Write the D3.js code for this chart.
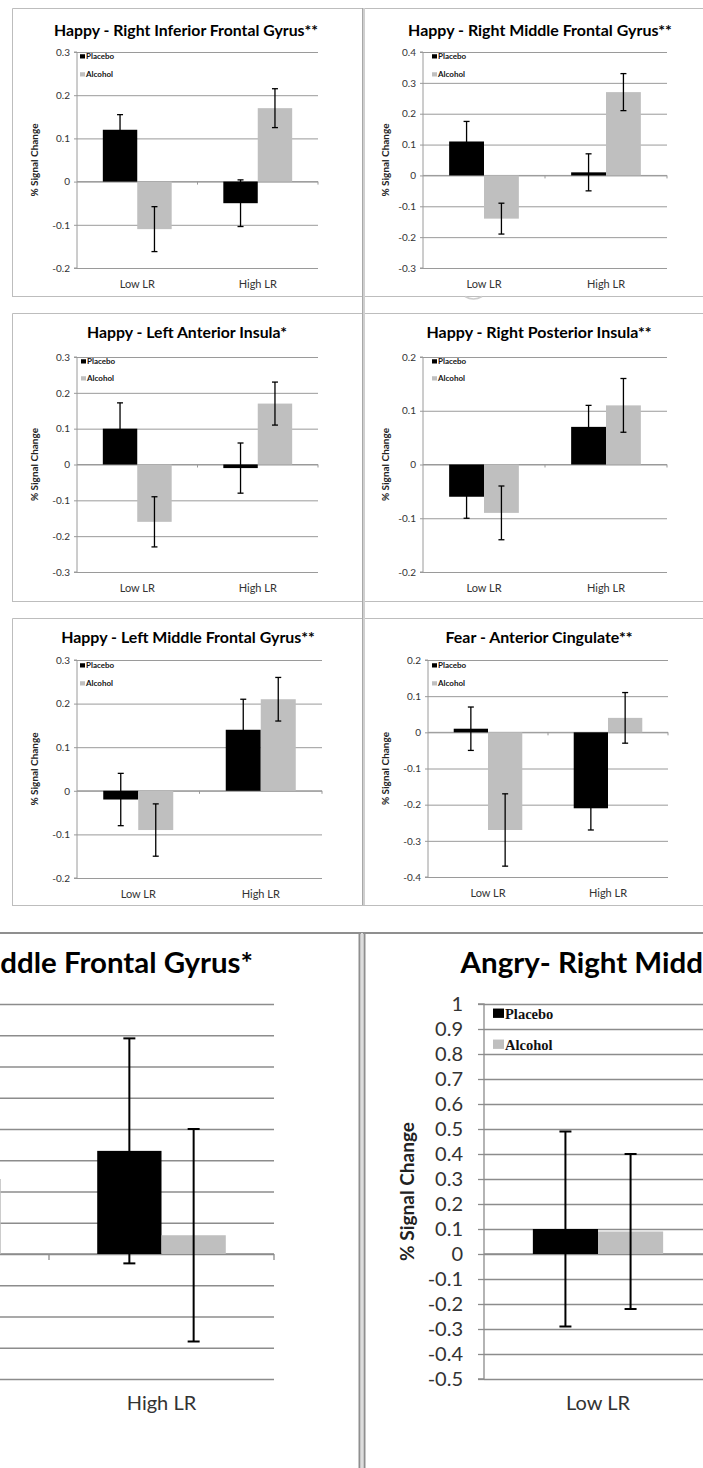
<!DOCTYPE html>
<html><head><meta charset="utf-8">
<script src="https://cdn.jsdelivr.net/npm/d3@7/dist/d3.min.js"></script>
<style>
html,body{margin:0;padding:0;background:#fff;}
svg{display:block;font-family:Lato,Carlito,"Open Sans",sans-serif;}
</style></head>
<body>
<script>
// ---------- DATA ----------
const categories = ["Low LR", "High LR"];
const seriesNames = ["Placebo", "Alcohol"];
const seriesColors = ["#000000", "#bfbfbf"];
const titles = [
  "Happy - Right Inferior Frontal Gyrus**",
  "Happy - Right Middle Frontal Gyrus**",
  "Happy - Left Anterior Insula*",
  "Happy - Right Posterior Insula**",
  "Happy - Left Middle Frontal Gyrus**",
  "Fear - Anterior Cingulate**",
  "Angry- Left Middle Frontal Gyrus*",
  "Angry- Right Middle Frontal Gyrus*"
];
const yAxisTitle = "% Signal Change";
const yMin = [-0.2, -0.3, -0.3, -0.2, -0.2, -0.4, -0.4, -0.5];
const yMax = [0.3, 0.4, 0.3, 0.2, 0.3, 0.2, 0.8, 1.0];
const yStep = [0.1, 0.1, 0.1, 0.1, 0.1, 0.1, 0.1, 0.1];
// [Low LR, High LR]; null = not visible in the cropped picture
const placeboMean = [[0.12,-0.05],[0.11,0.01],[0.10,-0.01],[-0.06,0.07],[-0.02,0.14],[0.01,-0.21],[null,0.33],[0.10,null]];
const placeboErr  = [[0.035,0.054],[0.065,0.06],[0.072,0.07],[0.04,0.04],[0.06,0.07],[0.06,0.06],[null,0.36],[0.39,null]];
const alcoholMean = [[-0.11,0.17],[-0.14,0.27],[-0.16,0.17],[-0.09,0.11],[-0.09,0.21],[-0.27,0.04],[0.24,0.06],[0.09,null]];
const alcoholErr  = [[0.052,0.045],[0.05,0.06],[0.07,0.06],[0.05,0.05],[0.06,0.05],[0.10,0.07],[null,0.34],[0.31,null]];

// ---------- LAYOUT / STYLE ----------
const small = {tickFont:10, tickGap:7, tickLen:3, catFont:11, catDy:20, yTitleFont:10,
  legFont:8, legMark:5, capW:6, errW:1.3, gridW:1, gridC:"#9a9a9a", titleBase:14, xTickLen:3,
  legFamily:"Lato,Carlito,sans-serif"};
const big = {tickFont:20, tickGap:21, tickLen:6, catFont:20, catDy:31, yTitleFont:19,
  legFont:14.5, legMark:11, capW:12, errW:2, gridW:1.3, gridC:"#8c8c8c", titleBase:26, xTickLen:6,
  legFamily:"'Liberation Serif',serif"};
const layout = [
  {l:77, r:318, t:52, b:268, tx:186, ty:36, tw:264, yx:38, lx:80, ly1:7, ly2:25, s:small},
  {l:423, r:667, t:52, b:268, tx:540, ty:36, tw:264, yx:389, lx:432, ly1:7, ly2:25, s:small},
  {l:77, r:318, t:357, b:572, tx:187, ty:338, tw:200, yx:38, lx:81, ly1:7, ly2:24, s:small},
  {l:423, r:667, t:357, b:572, tx:539, ty:338, tw:225, yx:389, lx:432, ly1:7, ly2:24, s:small},
  {l:77, r:322, t:660, b:878, tx:188, ty:643, tw:254, yx:38, lx:80, ly1:8, ly2:26, s:small},
  {l:428, r:668, t:660, b:877, tx:539, ty:643, tw:187, yx:389, lx:432, ly1:8, ly2:26, s:small},
  {l:-176, r:274, t:1004, b:1379, tx:31.5, ty:973, tw:443, yx:-247, lx:-167, ly1:15, ly2:46, s:big},
  {l:484, r:940, t:1004, b:1379, tx:691.5, ty:973, tw:462, yx:414, lx:493, ly1:15, ly2:46, s:big}
];

const W = 703, H = 1468;
const svg = d3.select("body").append("svg").attr("width", W).attr("height", H);
svg.append("rect").attr("width", W).attr("height", H).attr("fill", "#fff");

// ---------- FRAMES ----------
const frames = svg.append("g").attr("fill","none");
[[8,296],[313,601],[618,905]].forEach(([y0,y1]) => {
  frames.append("path").attr("d", `M12.5,${y1+0.5}V${y0+0.5}H703`).attr("stroke","#bdbdbd");
  frames.append("line").attr("x1",12).attr("x2",703).attr("y1",y1+0.5).attr("y2",y1+0.5).attr("stroke","#bdbdbd");
});
frames.append("rect").attr("x",362).attr("y",8).attr("width",3).attr("height",897).attr("fill","#cfcfcf");
frames.append("line").attr("x1",362.5).attr("x2",362.5).attr("y1",8).attr("y2",905).attr("stroke","#a8a8a8");
frames.append("path").attr("d","M465,296.5 Q473.5,301.5 482,296.5").attr("stroke","#cccccc").attr("stroke-width",1.5);
frames.append("line").attr("x1",0).attr("x2",W).attr("y1",933).attr("y2",933).attr("stroke","#8f8f8f").attr("stroke-width",2);
frames.append("line").attr("x1",359.5).attr("x2",359.5).attr("y1",933).attr("y2",H).attr("stroke","#8f8f8f").attr("stroke-width",2);
frames.append("line").attr("x1",364.5).attr("x2",364.5).attr("y1",933).attr("y2",H).attr("stroke","#8f8f8f").attr("stroke-width",2);
frames.append("line").attr("x1",362).attr("x2",362).attr("y1",933).attr("y2",H).attr("stroke","#dddddd").attr("stroke-width",2);

const fmt = d => String(+d.toFixed(1));

function drawPanel(i) {
  const L = layout[i], s = L.s;
  const g = svg.append("g");
  const ticks = d3.range(Math.round((yMax[i]-yMin[i])/yStep[i]) + 1).map(k => +(yMin[i] + k*yStep[i]).toFixed(2));
  const y = d3.scaleLinear().domain([yMin[i], yMax[i]]).range([L.b, L.t]);
  const x0 = d3.scaleBand().domain(categories).range([L.l, L.r]).padding(0);
  const cat = x0.bandwidth();
  const bw = cat / 3.5;
  const x1 = d3.scaleBand().domain(seriesNames).range([0.75*bw, cat - 0.75*bw]).padding(0);

  // gridlines
  const grid = g.append("g").attr("transform", `translate(${L.l},0)`)
    .call(d3.axisLeft(y).tickValues(ticks).tickSize(-(L.r - L.l)).tickFormat(""));
  grid.select(".domain").remove();
  grid.selectAll("line").attr("stroke", s.gridC).attr("stroke-width", s.gridW);

  // y axis
  const ya = g.append("g").attr("transform", `translate(${L.l},0)`)
    .call(d3.axisLeft(y).tickValues(ticks).tickSize(s.tickLen).tickPadding(s.tickGap - s.tickLen).tickFormat(fmt));
  ya.select(".domain").attr("stroke", s.gridC).attr("stroke-width", s.gridW).attr("d", `M-${s.tickLen},${L.t}H0V${L.b}H-${s.tickLen}`);
  ya.selectAll("line").attr("stroke", s.gridC).attr("stroke-width", s.gridW);
  ya.selectAll("text").attr("font-size", s.tickFont).attr("fill", "#333").attr("font-family", "Lato,Carlito,sans-serif");

  // x axis at zero
  const xa = g.append("g").attr("transform", `translate(0,${y(0)})`)
    .call(d3.axisBottom(x0).tickSize(0).tickFormat(""));
  xa.select(".domain").attr("stroke", s.gridC).attr("stroke-width", s.gridW).attr("d", `M${L.l},0H${L.r}`);
  const bounds = [x0(categories[1]), L.r];
  g.selectAll(null).data(bounds).enter().append("line")
    .attr("x1", d => d).attr("x2", d => d).attr("y1", y(0)).attr("y2", y(0) + s.xTickLen)
    .attr("stroke", s.gridC).attr("stroke-width", s.gridW);

  // category labels
  const xl = g.append("g").attr("transform", `translate(0,${L.b})`)
    .call(d3.axisBottom(x0).tickSize(0).tickPadding(0));
  xl.select(".domain").remove();
  xl.selectAll("text").attr("font-size", s.catFont).attr("fill", "#333").attr("dy", s.catDy)
    .attr("font-family", "Lato,Carlito,sans-serif");

  // bars
  const means = [placeboMean[i], alcoholMean[i]];
  const errs = [placeboErr[i], alcoholErr[i]];
  const recs = [];
  seriesNames.forEach((sn, si) => categories.forEach((c, ci) => {
    recs.push({sn, si, c, v: means[si][ci], e: errs[si][ci]});
  }));
  const barRecs = recs.filter(d => d.v !== null);
  g.selectAll(null).data(barRecs).enter().append("rect")
    .attr("x", d => x0(d.c) + x1(d.sn))
    .attr("width", x1.bandwidth())
    .attr("y", d => y(Math.max(0, d.v)))
    .attr("height", d => Math.abs(y(d.v) - y(0)))
    .attr("fill", d => seriesColors[d.si]);

  // error bars
  const errRecs = barRecs.filter(d => d.e !== null);
  const eg = g.selectAll(null).data(errRecs).enter().append("g")
    .attr("stroke", "#000").attr("stroke-width", s.errW);
  const cx = d => x0(d.c) + x1(d.sn) + x1.bandwidth()/2;
  eg.append("line").attr("x1", cx).attr("x2", cx).attr("y1", d => y(d.v + d.e)).attr("y2", d => y(d.v - d.e));
  eg.append("line").attr("x1", d => cx(d) - s.capW/2).attr("x2", d => cx(d) + s.capW/2)
    .attr("y1", d => y(d.v + d.e)).attr("y2", d => y(d.v + d.e));
  eg.append("line").attr("x1", d => cx(d) - s.capW/2).attr("x2", d => cx(d) + s.capW/2)
    .attr("y1", d => y(d.v - d.e)).attr("y2", d => y(d.v - d.e));

  // legend
  const lg = g.append("g");
  seriesNames.forEach((sn, si) => {
    const by = L.t + (si === 0 ? L.ly1 : L.ly2);
    lg.append("rect").attr("x", L.lx).attr("y", by - s.legMark*0.95).attr("width", s.legMark).attr("height", s.legMark*0.85)
      .attr("fill", seriesColors[si]);
    lg.append("text").attr("x", L.lx + s.legMark + 1).attr("y", by).attr("font-size", s.legFont)
      .attr("font-weight", "bold").attr("fill", "#111").attr("font-family", s.legFamily)
      .text(sn);
  });

  // y axis title
  g.append("text").attr("transform", `translate(${L.yx},${(L.t + L.b)/2}) rotate(-90)`)
    .attr("text-anchor", "middle").attr("font-size", s.yTitleFont).attr("font-weight", "bold").attr("fill", "#222")
    .text(yAxisTitle);

  // title
  const t = g.append("text").attr("x", L.tx).attr("y", L.ty).attr("text-anchor", "middle")
    .attr("font-weight", "bold").attr("font-size", s.titleBase).attr("fill", "#000").text(titles[i]);
  const len = t.node().getComputedTextLength();
  if (len > 0) t.attr("font-size", s.titleBase * L.tw / len);
}

for (let i = 0; i < titles.length; i++) drawPanel(i);

// the picture is a crop: texts lying wholly outside it are not shown there
svg.selectAll("text").each(function() {
  const r = this.getBoundingClientRect();
  if (r.right <= 0 || r.left >= W || r.bottom <= 0 || r.top >= H) d3.select(this).remove();
});
</script>
</body></html>
